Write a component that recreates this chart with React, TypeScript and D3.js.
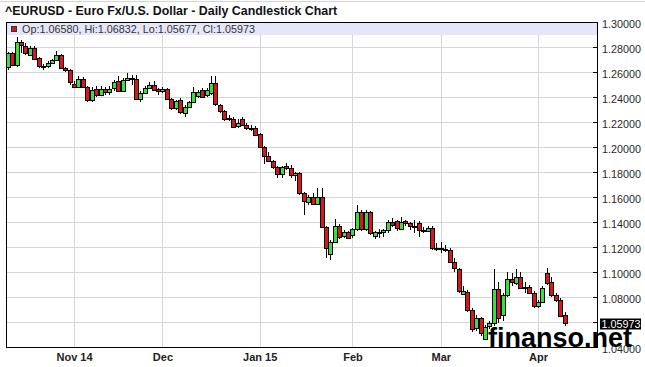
import * as d3 from 'd3';
import { useEffect, useRef } from 'react';

// trading days Oct 13 2014 .. Apr 10 2015 (holidays without a bar)
const startDay = new Date(2014, 9, 13);
const endDay = new Date(2015, 3, 11);
const holidays = ['2014-12-25', '2015-01-01', '2015-04-03'];

const opens = [
  1.2635, 1.2749, 1.2651, 1.2837, 1.2810, 1.2741, 1.2795, 1.2709, 1.2643, 1.2648,
  1.2675, 1.2696, 1.2736, 1.2632, 1.2616, 1.2504, 1.2477, 1.2544, 1.2483, 1.2376,
  1.2461, 1.2416, 1.2465, 1.2440, 1.2467, 1.2531, 1.2451, 1.2536, 1.2552, 1.2547,
  1.2389, 1.2435, 1.2475, 1.2500, 1.2461, 1.2445, 1.2465, 1.2384, 1.2309, 1.2376,
  1.2277, 1.2323, 1.2360, 1.2408, 1.2456, 1.2415, 1.2429, 1.2509, 1.2336, 1.2288,
  1.2224, 1.2224, 1.2163, 1.2221, 1.2176, 1.2149, 1.2149, 1.2101, 1.1997, 1.1928,
  1.1888, 1.1843, 1.1789, 1.1848, 1.1829, 1.1776, 1.1789, 1.1629, 1.1563, 1.1603,
  1.1549, 1.1603, 1.1363, 1.1150, 1.1243, 1.1371, 1.1283, 1.1317, 1.1291, 1.1341,
  1.1477, 1.1341, 1.1477, 1.1283, 1.1317, 1.1317, 1.1336, 1.1403, 1.1408, 1.1349,
  1.1408, 1.1389, 1.1363, 1.1395, 1.1336, 1.1333, 1.1355, 1.1195, 1.1190, 1.1186,
  1.1176, 1.1077, 1.1021, 1.0827, 1.0843, 1.0696, 1.0549, 1.0629, 1.0470, 1.0563,
  1.0589, 1.0861, 1.0653, 1.0816, 1.0941, 1.0915, 1.0963, 1.0877, 1.0883, 1.0835,
  1.0728, 1.0763, 1.0995, 1.0923, 1.0816, 1.0776, 1.06580,
];
const highs = [
  1.2757, 1.2760, 1.2883, 1.2855, 1.2830, 1.2810, 1.2810, 1.2720, 1.2665, 1.2685,
  1.2705, 1.2770, 1.2745, 1.2640, 1.2625, 1.2530, 1.2571, 1.2560, 1.2490, 1.2483,
  1.2490, 1.2490, 1.2480, 1.2490, 1.2540, 1.2571, 1.2550, 1.2595, 1.2575, 1.2580,
  1.2445, 1.2490, 1.2517, 1.2530, 1.2475, 1.2480, 1.2475, 1.2395, 1.2380, 1.2390,
  1.2335, 1.2372, 1.2483, 1.2455, 1.2470, 1.2475, 1.2571, 1.2571, 1.2345, 1.2300,
  1.2255, 1.2240, 1.2224, 1.2243, 1.2189, 1.2180, 1.2170, 1.2110, 1.2005, 1.1963,
  1.1900, 1.1850, 1.1850, 1.1869, 1.1860, 1.1800, 1.1800, 1.1640, 1.1620, 1.1629,
  1.1675, 1.1675, 1.1370, 1.1260, 1.1424, 1.1385, 1.1340, 1.1330, 1.1350, 1.1536,
  1.1500, 1.1496, 1.1490, 1.1330, 1.1345, 1.1345, 1.1420, 1.1435, 1.1420, 1.1443,
  1.1420, 1.1400, 1.1415, 1.1405, 1.1360, 1.1370, 1.1365, 1.1235, 1.1240, 1.1215,
  1.1190, 1.1115, 1.1030, 1.0890, 1.0855, 1.0710, 1.0660, 1.0640, 1.0575, 1.0610,
  1.1023, 1.0920, 1.0830, 1.1003, 1.0990, 1.1023, 1.0997, 1.0920, 1.0895, 1.0850,
  1.0780, 1.0890, 1.1036, 1.0960, 1.0830, 1.0790, 1.06832,
];
const lows = [
  1.2616, 1.2645, 1.2640, 1.2750, 1.2733, 1.2733, 1.2700, 1.2629, 1.2620, 1.2630,
  1.2665, 1.2690, 1.2622, 1.2600, 1.2500, 1.2470, 1.2469, 1.2469, 1.2363, 1.2363,
  1.2400, 1.2405, 1.2420, 1.2420, 1.2451, 1.2440, 1.2440, 1.2525, 1.2500, 1.2384,
  1.2363, 1.2425, 1.2465, 1.2455, 1.2420, 1.2435, 1.2375, 1.2296, 1.2295, 1.2265,
  1.2243, 1.2310, 1.2350, 1.2395, 1.2395, 1.2400, 1.2420, 1.2330, 1.2269, 1.2210,
  1.2205, 1.2155, 1.2150, 1.2170, 1.2136, 1.2125, 1.2090, 1.1990, 1.1861, 1.1880,
  1.1824, 1.1749, 1.1755, 1.1820, 1.1750, 1.1728, 1.1620, 1.1456, 1.1540, 1.1540,
  1.1540, 1.1355, 1.1115, 1.1096, 1.1235, 1.1265, 1.1270, 1.1262, 1.1270, 1.1330,
  1.1330, 1.1330, 1.1300, 1.1262, 1.1270, 1.1280, 1.1310, 1.1360, 1.1330, 1.1340,
  1.1370, 1.1336, 1.1310, 1.1283, 1.1310, 1.1320, 1.1180, 1.1170, 1.1150, 1.1160,
  1.1070, 1.1000, 1.0830, 1.0815, 1.0680, 1.0520, 1.0525, 1.0490, 1.0455, 1.0545,
  1.0570, 1.0589, 1.0610, 1.0800, 1.0890, 1.0900, 1.0870, 1.0835, 1.0825, 1.0715,
  1.0712, 1.0755, 1.0900, 1.0800, 1.0760, 1.0640, 1.05677,
];
const closes = [
  1.2749, 1.2653, 1.2837, 1.2810, 1.2757, 1.2795, 1.2709, 1.2643, 1.2648, 1.2675,
  1.2696, 1.2736, 1.2629, 1.2616, 1.2517, 1.2477, 1.2541, 1.2483, 1.2376, 1.2456,
  1.2416, 1.2465, 1.2440, 1.2467, 1.2517, 1.2451, 1.2536, 1.2552, 1.2547, 1.2389,
  1.2435, 1.2475, 1.2500, 1.2461, 1.2445, 1.2465, 1.2384, 1.2309, 1.2368, 1.2277,
  1.2323, 1.2360, 1.2443, 1.2440, 1.2403, 1.2455, 1.2509, 1.2341, 1.2288, 1.2224,
  1.2229, 1.2163, 1.2189, 1.2176, 1.2149, 1.2146, 1.2096, 1.1997, 1.1923, 1.1888,
  1.1843, 1.1789, 1.1843, 1.1829, 1.1776, 1.1789, 1.1629, 1.1563, 1.1603, 1.1549,
  1.1603, 1.1363, 1.1195, 1.1243, 1.1371, 1.1283, 1.1317, 1.1269, 1.1341, 1.1477,
  1.1341, 1.1477, 1.1309, 1.1317, 1.1309, 1.1336, 1.1397, 1.1376, 1.1349, 1.1403,
  1.1389, 1.1363, 1.1368, 1.1336, 1.1333, 1.1355, 1.1195, 1.1190, 1.1186, 1.1178,
  1.1077, 1.1029, 1.0843, 1.0848, 1.0696, 1.0541, 1.0629, 1.0505, 1.0563, 1.0589,
  1.0861, 1.0629, 1.0816, 1.0941, 1.0915, 1.0963, 1.0877, 1.0883, 1.0835, 1.0728,
  1.0763, 1.0875, 1.0915, 1.0816, 1.0776, 1.0648, 1.05973,
];

const yTicks = [1.30, 1.28, 1.26, 1.24, 1.22, 1.20, 1.18, 1.16, 1.14, 1.12, 1.10, 1.08, 1.06, 1.04];
const monthDays = ['2014-11-03', '2014-12-01', '2015-01-02', '2015-02-02', '2015-03-02', '2015-04-01'];
const monthLabels = ['Nov 14', 'Dec', 'Jan 15', 'Feb', 'Mar', 'Apr'];

const title = '^EURUSD - Euro Fx/U.S. Dollar - Daily Candlestick Chart';
const RED = '#dc1616';
const GREEN = '#38e038';

const fmt = d3.timeFormat('%Y-%m-%d');

export default function App() {
  const ref = useRef(null);

  useEffect(() => {
    const width = 645, height = 367;
    const left = 6, right = 597, top = 22, bottom = 347;

    const days = d3.timeDay.range(startDay, endDay)
      .filter(d => d.getDay() !== 0 && d.getDay() !== 6 && !holidays.includes(fmt(d)))
      .map(fmt);
    const data = days.map((d, i) => ({ d, o: opens[i], h: highs[i], l: lows[i], c: closes[i] }));
    const last = data[data.length - 1];

    const svg = d3.select(ref.current);
    svg.selectAll('*').remove();
    svg.attr('width', width).attr('height', height);

    const step = 4.419;
    const x = d3.scaleBand()
      .domain(days)
      .range([7.77 - step / 2, 7.77 - step / 2 + step * days.length])
      .paddingInner(0.15)
      .paddingOuter(0.075);
    const cx = d => x(d) + x.bandwidth() / 2;

    const y = d3.scaleLinear().domain([1.04, 1.30]).range([bottom, top]);

    svg.append('rect').attr('width', width).attr('height', height).attr('fill', '#fff');
    svg.append('line')
      .attr('x1', 0).attr('x2', width).attr('y1', 1.5).attr('y2', 1.5)
      .attr('stroke', '#d4d4d4');

    // grid
    const grid = svg.append('g').attr('shape-rendering', 'crispEdges').attr('stroke', '#d6d6d6');
    grid.selectAll('line.h')
      .data(yTicks.slice(1, -1))
      .enter()
      .append('line')
      .attr('x1', left).attr('x2', right)
      .attr('y1', d => Math.round(y(d)) + 0.5).attr('y2', d => Math.round(y(d)) + 0.5);
    grid.selectAll('line.v')
      .data(monthDays)
      .enter()
      .append('line')
      .attr('x1', d => Math.round(cx(d)) + 0.5).attr('x2', d => Math.round(cx(d)) + 0.5)
      .attr('y1', top).attr('y2', bottom);

    // legend band
    svg.append('rect')
      .attr('x', left + 1).attr('y', top + 0.5)
      .attr('width', right - left - 1).attr('height', 12.5)
      .attr('fill', '#e6e6fa');

    // frame
    svg.append('path')
      .attr('d', `M${left + 0.5},${top + 0.5}H${right + 0.5}V${bottom + 0.5}H${left + 0.5}Z`)
      .attr('fill', 'none').attr('stroke', '#000').attr('shape-rendering', 'crispEdges');

    // right axis ticks + labels (the label under the price tag is covered)
    svg.append('g')
      .selectAll('line')
      .data(yTicks)
      .enter()
      .append('line')
      .attr('x1', right - 4).attr('x2', right)
      .attr('y1', d => Math.round(y(d)) + 0.5).attr('y2', d => Math.round(y(d)) + 0.5)
      .attr('stroke', '#000').attr('shape-rendering', 'crispEdges');
    svg.append('g')
      .selectAll('text')
      .data(yTicks.filter(t => Math.abs(y(t) - y(last.c)) > 9))
      .enter()
      .append('text')
      .attr('x', right + 5)
      .attr('y', d => y(d) + 5.5)
      .attr('font-family', 'Liberation Sans, Arial, sans-serif')
      .attr('font-size', 10.8)
      .attr('fill', '#2a2a2a')
      .text(d => d.toFixed(5));

    // month labels
    svg.append('g')
      .selectAll('text')
      .data(monthDays)
      .enter()
      .append('text')
      .attr('x', d => cx(d) + 0.5)
      .attr('y', 361)
      .attr('text-anchor', 'middle')
      .attr('font-family', 'Liberation Sans, Arial, sans-serif')
      .attr('font-weight', 'bold')
      .attr('font-size', 11)
      .attr('fill', '#222')
      .text((d, i) => monthLabels[i]);

    // candles
    const candles = svg.append('g').attr('shape-rendering', 'crispEdges');
    candles.selectAll('line')
      .data(data)
      .enter()
      .append('line')
      .attr('x1', d => Math.round(cx(d.d)) + 0.5).attr('x2', d => Math.round(cx(d.d)) + 0.5)
      .attr('y1', d => y(d.h)).attr('y2', d => y(d.l))
      .attr('stroke', '#000');
    candles.selectAll('rect')
      .data(data)
      .enter()
      .append('rect')
      .attr('x', d => Math.round(cx(d.d)) - 1.5)
      .attr('width', 4)
      .attr('y', d => Math.round(y(Math.max(d.o, d.c))) + 0.5)
      .attr('height', d => Math.max(1, Math.round(Math.abs(y(d.o) - y(d.c)))))
      .attr('fill', d => (d.c >= d.o ? GREEN : RED))
      .attr('stroke', '#000');

    // legend
    svg.append('rect')
      .attr('x', 11.5).attr('y', 26.5).attr('width', 5).attr('height', 5)
      .attr('fill', RED).attr('stroke', '#333');
    svg.append('text')
      .attr('x', 22).attr('y', 32.5)
      .attr('font-family', 'Liberation Sans, Arial, sans-serif')
      .attr('font-size', 10.8)
      .attr('fill', '#333')
      .text(`Op:${last.o.toFixed(5)}, Hi:${last.h.toFixed(5)}, Lo:${last.l.toFixed(5)}, Cl:${last.c.toFixed(5)}`);

    // title
    svg.append('text')
      .attr('x', 5).attr('y', 15)
      .attr('font-family', 'Liberation Sans, Arial, sans-serif')
      .attr('font-weight', 'bold')
      .attr('font-size', 12.4)
      .attr('fill', '#111')
      .text(title);

    // last price tag
    svg.append('rect')
      .attr('x', 600).attr('y', Math.round(y(last.c)) - 3.5)
      .attr('width', 41).attr('height', 11)
      .attr('fill', '#000');
    svg.append('text')
      .attr('x', 601.5).attr('y', y(last.c) + 5.5)
      .attr('font-family', 'Liberation Sans, Arial, sans-serif')
      .attr('font-size', 10.8)
      .attr('fill', '#fff')
      .text(last.c.toFixed(5));

    // watermark
    svg.append('text')
      .attr('x', 488).attr('y', 347)
      .attr('font-family', 'Liberation Sans, Arial, sans-serif')
      .attr('font-weight', 'bold')
      .attr('font-size', 27)
      .attr('fill', '#000')
      .text('finanso.net');

    return () => {
      svg.selectAll('*').remove();
    };
  }, []);

  return <svg ref={ref} style={{ position: 'absolute', left: 0, top: 0 }} />;
}
